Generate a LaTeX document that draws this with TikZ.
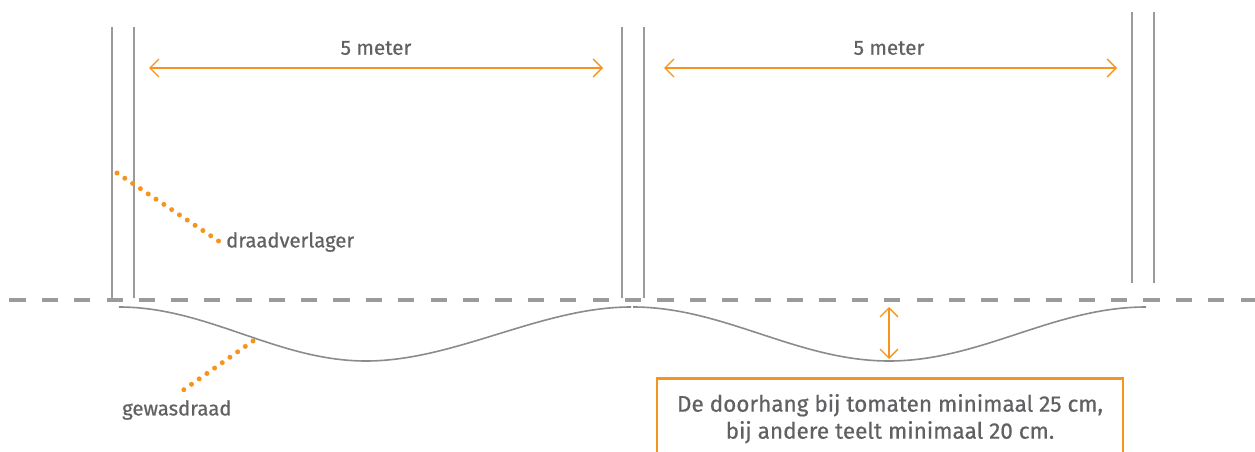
\documentclass[tikz,border=0pt]{standalone}
\usepackage{fontspec}
\setmainfont{Fira Sans}[UprightFeatures={FakeBold=0.6}]
\usetikzlibrary{arrows.meta}
\definecolor{oranje}{HTML}{F7941D}
\definecolor{paal}{HTML}{9B9B9B}
\definecolor{tekst}{HTML}{616164}
\begin{document}
\begin{tikzpicture}[x=1pt, y=1pt,
				    post/.style={draw=paal, line width=1.4pt},
				    maat/.style={draw=oranje, line width=1.3pt,
				    			 {Straight Barb[length=9pt,width=18pt]}-{Straight Barb[length=9pt,width=18pt]}},
				    wire/.style={draw=paal!90!black, line width=1.6pt},
				    dots/.style={draw=oranje, line width=5pt, line cap=round,
				    			 dash pattern=on 0pt off 9.4pt},
				    label/.style={text=tekst, font=\fontsize{20.3}{24}\selectfont, inner sep=0pt}]
	\clip (0,0) rectangle (1255,-452);
	% palen
	\coordinate (p1t) at (112, -27);   \coordinate (p1b) at (112, -298);
	\coordinate (p2t) at (134, -27);   \coordinate (p2b) at (134, -298);
	\coordinate (p3t) at (622, -27);   \coordinate (p3b) at (622, -298);
	\coordinate (p4t) at (644, -27);   \coordinate (p4b) at (644, -298);
	\coordinate (p5t) at (1132, -12);  \coordinate (p5b) at (1132, -283);
	\coordinate (p6t) at (1154, -12);  \coordinate (p6b) at (1154, -283);
	\path[post] (p1t) edge (p1b) (p2t) edge (p2b) (p3t) edge (p3b)
	            (p4t) edge (p4b) (p5t) edge (p5b) (p6t) edge (p6b);

	% bodem
	\coordinate (g1) at (-23, -300);
	\coordinate (g2) at (1270, -300);
	\draw[draw=paal, line width=4pt, dash pattern=on 16.2pt off 16.2pt] (g1) -- (g2);

	% maten
	\coordinate (a1) at (149, -68);  \coordinate (a2) at (603, -68);
	\coordinate (a3) at (664, -68);  \coordinate (a4) at (1117, -68);
	\draw[maat] (a1) -- (a2);
	\draw[maat] (a3) -- (a4);
	\node[label, font=\fontsize{20.5}{24}\selectfont] (m1) at (376, -48) {5 meter};
	\node[label, font=\fontsize{20.5}{24}\selectfont] (m2) at (889, -48) {5 meter};

	% gewasdraad
	\coordinate (w0) at (119, -307);
	\coordinate (w1) at (366, -361);
	\coordinate (w2) at (632, -307);
	\coordinate (w3) at (889, -361);
	\coordinate (w4) at (1146, -307);
	\draw[wire] (w0) .. controls (208, -307) and (277, -361) .. (w1)
	                 .. controls (455, -361) and (541, -307) .. ([xshift=-1pt]w2);
	\draw[wire] ([xshift=1pt]w2) .. controls (724, -307) and (797, -361) .. (w3)
	                 .. controls (981, -361) and (1053, -307) .. (w4);

	% doorhang
	\coordinate (d1) at (889, -307);
	\coordinate (d2) at (889, -359);
	\draw[maat] (d1) -- (d2);

	% draadverlager
	\coordinate (v1) at (117, -173);
	\coordinate (v2) at (220, -242);
	\draw[dots] (v1) -- (v2);
	\node[label, anchor=west] (dv) at (226, -242) {draadverlager};

	% gewasdraad label
	\coordinate (k1) at (253, -341);
	\coordinate (k2) at (182, -391);
	\draw[dots] (k1) -- (k2);
	\node[label, anchor=west] (gd) at (122, -410) {gewasdraad};

	% opmerking
	\node[draw=oranje, line width=2.5pt, minimum width=466pt, minimum height=81pt,
	      anchor=north, align=center, text=tekst,
	      font=\fontsize{22.5}{27}\selectfont] (note) at (890, -377)
	      {De doorhang bij tomaten minimaal 25 cm,\\bij andere teelt minimaal 20 cm.};
\end{tikzpicture}
\end{document}
